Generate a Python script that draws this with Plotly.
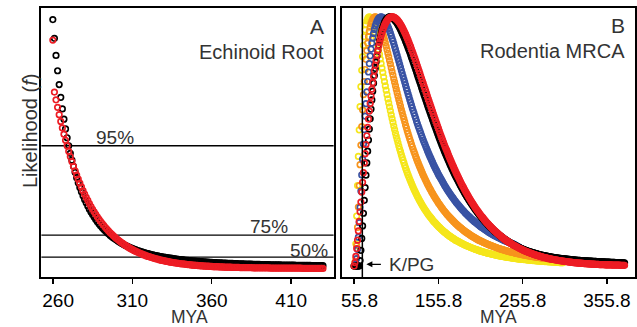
import plotly.graph_objects as go

# ---------------- DATA ----------------
# Panel A: Echinoid root, likelihood at 1-MYA steps starting at 260 MYA
A_START = 260
A_STEP = 1
echinoid_black = [
    .998, .923, .855, .794, .739, .688, .642, .601, .562, .527, .495, .465, .438, .413, .389, .368, .348, .329, .312, .296, .281,
    .268, .255, .242, .231, .221, .211, .201, .192, .184, .176,
    .169, .162, .156, .150, .144, .138, .133, .128, .124, .119,
    .115, .111, .107, .104, .100, .097, .094, .091, .088, .086,
    .083, .081, .078, .076, .074, .072, .070, .068, .066, .065,
    .063, .061, .060, .058, .057, .056, .054, .053, .052, .051,
    .050, .049, .048, .047, .046, .045, .044, .043, .042, .041,
    .041, .040, .039, .038, .038, .037, .036, .036, .035, .035,
    .034, .034, .033, .033, .032, .032, .031, .031, .030, .030,
    .029, .029, .029, .028, .028, .028, .027, .027, .027, .026,
    .026, .026, .026, .025, .025, .025, .024, .024, .024, .024,
    .023, .023, .023, .023, .023, .022, .022, .022, .022, .022,
    .021, .021, .021, .021, .021, .021, .020, .020, .020, .020,
    .020, .020, .020, .019, .019, .019, .019, .019, .019, .019,
    .019, .019, .018, .018, .018, .018, .018, .018, .018, .018,
    .018, .018, .017, .017, .017, .017, .017, .017, .017, .017,
]
echinoid_red = [
    .916,
    .709, .678, .648, .619, .592, .566, .541, .517, .495, .473, .452,
    .432, .413, .395, .378, .362, .346, .331, .316, .302, .289,
    .277, .265, .253, .242, .232, .222, .212, .203, .194, .186,
    .178, .170, .163, .156, .149, .143, .137, .131, .125, .120,
    .115, .110, .106, .101, .097, .093, .089, .085, .082, .078,
    .075, .072, .069, .066, .064, .061, .059, .056, .054, .052,
    .050, .048, .046, .044, .043, .041, .039, .038, .037, .035,
    .034, .033, .031, .030, .029, .028, .027, .026, .025, .024,
    .024, .023, .022, .021, .021, .020, .019, .019, .018, .018,
    .017, .017, .016, .016, .015, .015, .015, .014, .014, .013,
    .013, .013, .013, .012, .012, .012, .011, .011, .011, .011,
    .011, .010, .010, .010, .010, .010, .009, .009, .009, .009,
    .009, .009, .009, .009, .008, .008, .008, .008, .008, .008,
    .008, .008, .008, .008, .008, .007, .007, .007, .007, .007,
    .007, .007, .007, .007, .007, .007, .007, .007, .007, .007,
    .007, .007, .007, .007, .007, .006, .006, .006, .006, .006,
    .006, .006, .006, .006, .006, .006, .006, .006, .006,
]
A_TICKS = [260, 310, 360, 410]
A_TICK_TEXT = ["\u2007260", "310", "360", "410"]
A_LEVELS = [0.495, 0.139, 0.051]
A_LEVEL_LABELS = ["95%", "75%", "50%"]

# Panel B: Rodentia MRCA, likelihood at 1-MYA steps starting at 55.8 MYA
B_START = 55.8
B_STEP = 1
rodentia_yellow = [
    0, .015, .089, .201, .323, .440, .547, .640, .720, .786, .841, .886, .921, .948, .969, .984, .993, .998, 1.0,
    .998, .993, .985, .975, .963, .950, .935, .919, .902, .885, .868, .850, .831, .813, .795, .777, .759, .741, .723, .706,
    .688, .671, .655, .639, .623, .607, .592, .577, .562, .548, .534, .521, .508, .495, .482, .470, .459, .447, .436, .425,
    .415, .404,
    .394, .385, .375, .366, .357, .348, .340, .332, .324, .316, .308, .301, .294, .287, .280, .274, .267, .261, .255, .249,
    .243, .238, .232, .227, .222, .217, .212, .207, .203, .198, .194, .190, .185, .181, .177, .174, .170, .166, .163, .159,
    .156, .153, .149, .146, .143, .140, .137, .135, .132, .129,
    .126, .124, .121, .119, .117, .114, .112, .110, .108, .105,
    .103, .101, .100, .098, .096, .094, .092, .090, .089, .087,
    .085, .084, .082, .081, .079, .078, .076, .075, .073, .072,
    .071, .070, .068, .067, .066, .065, .064, .062, .061, .060,
    .059, .058, .057, .056, .055, .054, .053, .052, .051, .051,
    .050, .049, .048, .047, .047, .046, .045, .044, .044, .043,
    .042, .041, .041, .040, .039, .039, .038, .038, .037, .036,
    .036, .035, .035, .034, .034, .033, .033, .032, .032, .031,
    .031, .030, .030, .029, .029, .028, .028, .028, .027, .027,
    .026, .026, .026, .025, .025, .024, .024, .024, .023, .023,
    .023, .022, .022, .022, .021, .021, .021, .020, .020, .020,
    .020, .019, .019, .019, .019, .018, .018, .018, .018, .017,
    .017, .017, .017, .016, .016, .016, .016, .016, .015, .015,
    .015, .015, .015, .014, .014, .014, .014, .014,
]
rodentia_orange = [
    0, .003, .029, .082, .155, .237, .323, .407, .486, .560, .627, .688, .741, .789, .830, .865, .895, .921, .942, .959,
    .973, .983, .991, .996, .999, 1.0,
    .999, .996, .991, .984, .977, .968, .957, .946, .935, .922, .909, .896, .882, .868, .854, .840, .825, .811, .796, .781,
    .767, .752, .738, .724, .710, .696, .682, .668, .655, .642, .628, .616, .603, .591, .579,
    .566, .555, .543, .532, .521, .510, .500, .489, .479, .469, .459, .450, .440, .431, .422, .414, .405, .397, .389, .381,
    .373, .365, .358, .350, .343, .336, .329, .323, .316, .310, .304, .297, .292, .286, .280, .275, .269, .264, .259, .253,
    .249, .244, .239, .234, .230, .225, .221, .217, .213, .208,
    .205, .201, .197, .193, .190, .186, .183, .179, .176, .172,
    .169, .166, .163, .160, .157, .154, .152, .149, .146, .143,
    .141, .138, .136, .134, .131, .129, .127, .124, .122, .120,
    .118, .116, .114, .112, .110, .108, .106, .104, .103, .101,
    .099, .098, .096, .094, .093, .091, .090, .088, .087, .085,
    .084, .083, .081, .080, .079, .077, .076, .075, .074, .072,
    .071, .070, .069, .068, .067, .066, .065, .064, .063, .062,
    .061, .060, .059, .058, .057, .056, .056, .055, .054, .053,
    .052, .051, .051, .050, .049, .048, .048, .047, .046, .046,
    .045, .044, .044, .043, .042, .042, .041, .041, .040, .039,
    .039, .038, .038, .037, .037, .036, .036, .035, .035, .034,
    .034, .033, .033, .032, .032, .031, .031, .031, .030, .030,
    .029, .029, .029, .028, .028, .027, .027, .027, .026, .026,
    .026, .025, .025, .025, .024, .024, .024, .023, .023, .023,
    .022, .022, .022, .022, .021, .021, .021, .020, .020, .020,
]
rodentia_blue = [
    0, .001, .008, .030, .067, .116, .174, .236, .301, .366, .429, .490, .548, .602, .652, .699, .741, .779, .813, .844,
    .871, .895, .916, .934, .950, .963, .973, .982, .989, .994, .997, .999, 1.0,
    .999, .997, .994, .989, .984, .978, .970, .962, .954, .945, .935, .925, .914, .904, .893, .881, .870, .858, .846, .834,
    .822, .810, .798, .786, .774, .762, .750, .738,
    .726, .714, .703, .691, .680, .668, .657, .646, .635, .624, .614, .603, .593, .582, .572, .562, .553, .543, .534, .524,
    .515, .506, .497, .489, .480, .472, .463, .455, .447, .439, .432, .424, .417, .409, .402, .395, .388, .382, .375, .368,
    .362, .356, .350, .344, .338, .332, .326, .320, .315, .309,
    .304, .299, .294, .289, .284, .279, .275, .270, .265, .261,
    .256, .252, .248, .244, .240, .236, .232, .228, .224, .221,
    .217, .213, .210, .207, .203, .200, .197, .193, .190, .187,
    .184, .181, .178, .176, .173, .170, .167, .165, .162, .159,
    .157, .154, .152, .150, .147, .145, .143, .141, .138, .136,
    .134, .132, .130, .128, .126, .124, .122, .121, .119, .117,
    .115, .114, .112, .110, .109, .107, .105, .104, .102, .101,
    .099, .098, .096, .095, .094, .092, .091, .090, .088, .087,
    .085, .083, .081, .079, .077, .075, .073, .071, .069, .067,
    .065, .063, .062, .060, .059, .057, .056, .055, .054, .052,
    .051, .050, .049, .048, .047, .046, .045, .044, .043, .042,
    .041, .040, .040, .039, .038, .038, .037, .036, .036, .035,
    .034, .034, .033, .032, .032, .031, .031, .030, .030, .029,
    .029, .028, .028, .027, .027, .026, .026, .026, .025, .025,
    .025, .024, .024, .023, .023, .023, .022, .022, .021, .021,
]
rodentia_black = [
    0, 0, 0, 0, 0, 0, 0,
    .022, .063, .111, .161, .212, .264, .315, .365, .414, .461, .506, .550, .591, .630, .667, .702, .734, .765, .793, .819,
    .843, .865, .886, .904, .920, .935, .948, .959, .969, .978, .984, .990, .994, .997, .999, 1.0,
    1.0, .999, .997, .995, .992, .988, .984, .980, .975, .969, .963, .957, .950, .943, .935, .928, .920, .912, .903, .894,
    .885, .876, .867, .858, .848, .838, .829, .819, .809, .799, .789, .779, .768, .758, .748, .738, .728, .717, .707, .697,
    .687, .677, .667, .657, .647, .637, .627, .617, .607, .598, .588, .579, .569, .560, .551, .541, .532, .523,
    .514, .505, .496, .487, .479, .471, .462, .454, .446, .438,
    .430, .423, .415, .407, .400, .392, .385, .378, .371, .364,
    .357, .350, .344, .337, .331, .324, .318, .312, .306, .300,
    .294, .288, .283, .277, .272, .266, .261, .256, .251, .246,
    .241, .236, .231, .226, .222, .217, .213, .208, .204, .200,
    .196, .192, .188, .184, .180, .176, .173, .169, .165, .162,
    .159, .155, .152, .149, .146, .142, .139, .136, .134, .131,
    .128, .125, .122, .120, .117, .115, .112, .110, .107, .105,
    .103, .100, .098, .096, .094, .092, .090, .088, .086, .084,
    .082, .081, .079, .077, .076, .074, .072, .071, .069, .068,
    .067, .065, .064, .063, .062, .060, .059, .058, .057, .056,
    .055, .054, .053, .052, .051, .050, .049, .048, .047, .046,
    .045, .044, .044, .043, .042, .042, .041, .040, .040, .039,
    .038, .038, .037, .036, .036, .035, .035, .034, .034, .033,
    .033, .032, .032, .031, .031, .030, .030, .030, .029, .029,
    .029, .028, .028, .027, .027, .027, .026, .026, .025, .025,
    .025, .024, .024, .024, .023, .023, .023, .023, .022, .022,
    .022, .022, .021, .021, .021, .021, .021, .020, .020, .020,
    .020, .020, .019, .019, .019, .019, .019, .018, .018, .018,
    .018, .018, .017, .017, .017, .017, .017, .016, .016, .016,
    .016, .016, .016, .015, .015, .015, .015, .015, .015, .014,
    .014, .014, .014, .014, .014, .014, .013, .013, .013, .013, .013,
]
rodentia_red = [
    0, .014, .039, .070, .104, .141, .179, .218, .257, .297, .336, .375, .414, .451, .488, .523, .557, .590, .622, .653,
    .682, .710, .736, .761, .784, .807, .827, .847, .865, .882, .897, .912, .925, .937, .948, .957, .966, .973, .980, .985,
    .990, .994, .997, .998, 1.0, 1.0,
    1.0, .999, .997, .995, .992, .989, .985, .980, .976, .970, .965, .959, .952, .945, .938, .931, .923, .915, .907, .898,
    .889, .881, .871, .862, .853, .843, .834, .824, .814, .804, .794, .784, .774, .763, .753, .743, .733, .722, .712, .702,
    .692, .681, .671, .661, .651, .641, .631, .621, .611, .601, .591, .581, .572, .562, .553,
    .543, .533, .524, .515, .506, .497, .488, .479, .471, .463,
    .454, .445, .437, .429, .421, .413, .405, .398, .390, .383,
    .375, .368, .361, .354, .347, .340, .333, .326, .320, .314,
    .307, .301, .295, .289, .283, .277, .271, .266, .260, .255,
    .250, .244, .239, .234, .229, .224, .220, .215, .210, .206,
    .201, .197, .193, .188, .184, .180, .176, .172, .169, .165,
    .161, .158, .154, .151, .147, .144, .141, .138, .135, .132,
    .129, .126, .123, .120, .117, .115, .112, .109, .107, .104,
    .102, .100, .097, .095, .093, .091, .089, .086, .084, .082,
    .081, .079, .077, .075, .073, .071, .070, .068, .067, .065,
    .063, .062, .060, .059, .058, .056, .055, .054, .052, .051,
    .050, .049, .047, .046, .045, .044, .043, .042, .041, .040,
    .039, .038, .037, .036, .035, .034, .034, .033, .032, .031,
    .030, .030, .029, .028, .027, .027, .026, .025, .025, .024,
    .024, .023, .022, .022, .021, .021, .020, .020, .019, .019,
    .018, .018, .017, .017, .016, .016, .016, .015, .015, .014,
    .014, .014, .013, .013, .013, .012, .012, .012, .012, .011,
    .011, .011, .010, .010, .010, .010, .009, .009, .009, .009,
    .008, .008, .008, .008, .008, .007, .007, .007, .007, .007,
    .006, .006, .006, .006, .006, .006, .006, .005, .005, .005,
    .005, .005, .005, .005, .005, .004, .004, .004, .004, .004,
    .004, .004, .004, .004, .004, .003, .003, .003, .003, .003, .003,
]
B_TICKS = [55.8, 155.8, 255.8, 355.8]
B_TICK_TEXT = ["\u200755.8", "155.8", "255.8", "355.8"]
KPG = 65.5

# ---------------- STYLE ----------------
W, H = 637, 327
FONT = "Liberation Sans, Arial, Helvetica, sans-serif"
TXT = "#333333"
RED = "#ED1C24"
YELLOW = "#F5E61B"
ORANGE = "#F7941D"
BLUE = "#3953A4"
BLACK = "#000000"


def xs(start, step, vals):
    return [round(start + step * i, 3) for i in range(len(vals))]


def marker(color):
    return dict(symbol="circle-open", size=5.5, color=color, line=dict(width=1.7, color=color))


fig = go.Figure()
for vals, col in [(echinoid_black, BLACK), (echinoid_red, RED)]:
    fig.add_trace(go.Scatter(x=xs(A_START, A_STEP, vals), y=vals, mode="markers",
                             marker=marker(col), xaxis="x", yaxis="y",
                             showlegend=False, hoverinfo="skip"))
for vals, col in [(rodentia_yellow, YELLOW), (rodentia_orange, ORANGE), (rodentia_blue, BLUE),
                  (rodentia_black, BLACK), (rodentia_red, RED)]:
    fig.add_trace(go.Scatter(x=xs(B_START, B_STEP, vals), y=vals, mode="markers",
                             marker=marker(col), xaxis="x2", yaxis="y2",
                             showlegend=False, hoverinfo="skip"))

ydom = [1 - 277 / H, 1 - 8 / H]
axis_common = dict(showline=True, mirror=True, linewidth=2, linecolor="black",
                   showgrid=False, zeroline=False, fixedrange=True)
fig.update_layout(
    width=W, height=H, margin=dict(l=0, r=0, t=0, b=0),
    paper_bgcolor="white", plot_bgcolor="white",
    font=dict(family=FONT, color="black"),
    xaxis=dict(domain=[30 / W, 328.3 / W], range=[252.8, 436.7], anchor="y",
               tickmode="array", tickvals=A_TICKS, ticktext=A_TICK_TEXT,
               ticks="outside", ticklen=5, tickwidth=1.5, tickcolor="black",
               tickfont=dict(size=19, family=FONT, color="black"), **axis_common),
    yaxis=dict(domain=ydom, range=[-0.028, 1.044], anchor="x", showticklabels=False,
               ticks="", **axis_common),
    xaxis2=dict(domain=[337.3 / W, 635.5 / W], range=[41.85, 388.6], anchor="y2",
                tickmode="array", tickvals=B_TICKS, ticktext=B_TICK_TEXT,
                ticks="outside", ticklen=5, tickwidth=1.5, tickcolor="black",
                tickfont=dict(size=19, family=FONT, color="black"), **axis_common),
    yaxis2=dict(domain=ydom, range=[-0.044, 1.036], anchor="x2", showticklabels=False,
                ticks="", **axis_common),
)

# Threshold lines in panel A
for lv in A_LEVELS:
    fig.add_shape(type="line", xref="x domain", yref="y", x0=0, x1=1, y0=lv, y1=lv,
                  line=dict(color="black", width=1.3), layer="below")

# K/PG boundary line in panel B
fig.add_shape(type="line", xref="x2", yref="y2 domain", x0=KPG, x1=KPG, y0=0, y1=1,
              line=dict(color="black", width=1.5))


def ann(text, px, py, size, xanchor="center", color=TXT, angle=0):
    fig.add_annotation(text=text, x=px / W, y=1 - py / H, xref="paper", yref="paper",
                       showarrow=False, xanchor=xanchor, yanchor="middle", textangle=angle,
                       font=dict(size=size, family=FONT, color=color))


ann("A", 321, 27, 21, "right")
ann("Echinoid Root", 321, 52, 20, "right")
ann("B", 628, 25, 21, "right")
ann("Rodentia MRCA", 628, 51, 20, "right")
for lbl, cx, cy in zip(A_LEVEL_LABELS, [105, 262, 303], [137, 226, 250]):
    ann(lbl, cx, cy, 19, "center")
ann("MYA", 181.5, 316.5, 17.5)
ann("MYA", 496.7, 316.5, 17.5)
ann("Likelihood (<i>f</i>)", 18.5, 131, 20, angle=-90)
ann("K/PG", 383, 264, 19, "left")

# Arrow pointing to the K/PG line
fig.add_annotation(x=KPG + 4.8, y=0.007, xref="x2", yref="y2", text="", showarrow=True,
                   ax=16, ay=0, axref="pixel", ayref="pixel", arrowhead=2, arrowsize=1,
                   arrowwidth=1.2, arrowcolor="black")

fig.write_html("out.html", config={"displayModeBar": False, "staticPlot": True},
               post_script="document.body.style.margin='0';document.body.style.overflow='hidden';")
